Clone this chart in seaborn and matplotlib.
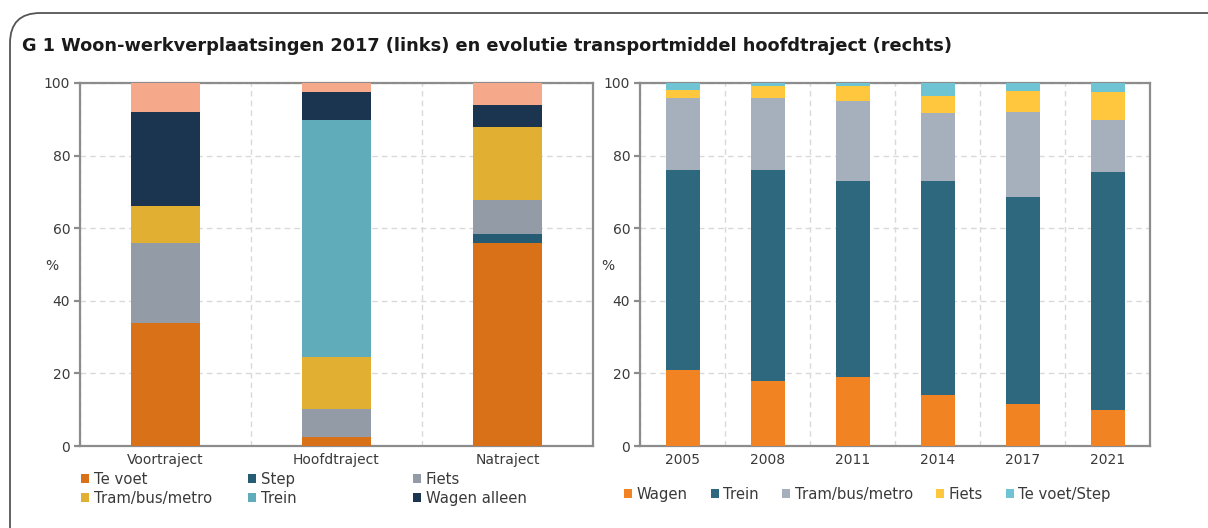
import numpy as np
import pandas as pd
import matplotlib
matplotlib.use("Agg")
import matplotlib.pyplot as plt
import seaborn as sns
from matplotlib.patches import FancyBboxPatch, Patch
from matplotlib.ticker import FixedLocator

# ---------------- data ----------------
left_categories = ["Voortraject", "Hoofdtraject", "Natraject"]
left_te_voet = [34.0, 2.4, 56.0]
left_step = [0.0, 0.0, 2.3]
left_fiets = [22.0, 7.7, 9.4]
left_tram = [10.0, 14.3, 20.3]
left_trein = [0.0, 65.3, 0.0]
left_wagen_alleen = [26.0, 7.7, 6.0]
left_andere = [8.0, 2.6, 6.0]

right_years = ["2005", "2008", "2011", "2014", "2017", "2021"]
right_wagen = [21.0, 17.8, 18.9, 14.0, 11.5, 10.0]
right_trein = [54.9, 58.1, 54.0, 58.9, 57.0, 65.6]
right_tram = [20.1, 20.1, 22.1, 18.7, 23.4, 14.1]
right_fiets = [2.0, 3.1, 4.1, 4.9, 5.9, 7.7]
right_te_voet_step = [2.0, 0.9, 0.9, 3.5, 2.2, 2.6]

left_series = [
    ("Te voet", left_te_voet, "#D97119"),
    ("Step", left_step, "#255B73"),
    ("Fiets", left_fiets, "#939CA6"),
    ("Tram/bus/metro", left_tram, "#E1B033"),
    ("Trein", left_trein, "#61ACBA"),
    ("Wagen alleen", left_wagen_alleen, "#1B3551"),
    ("Andere", left_andere, "#F5A98A"),
]
right_series = [
    ("Wagen", right_wagen, "#F28322"),
    ("Trein", right_trein, "#2E687E"),
    ("Tram/bus/metro", right_tram, "#A6B0BC"),
    ("Fiets", right_fiets, "#FFC73D"),
    ("Te voet/Step", right_te_voet_step, "#6EC4D3"),
]

# ---------------- style ----------------
sns.set_style("white")
plt.rcParams["font.family"] = ["DejaVu Sans"]
TEXT = "#3A3A3A"
SPINE = "#8C8C8C"
GRID = "#D9D9D9"
TICK_FS = 10
LEG_FS = 10.7

fig = plt.figure(figsize=(12.08, 5.28), dpi=100)
W, H = 1208, 528

def axrect(x0, x1, y0, y1):
    return [x0 / W, 1 - y1 / H, (x1 - x0) / W, (y1 - y0) / H]

axL = fig.add_axes(axrect(80, 593, 83, 446))
axR = fig.add_axes(axrect(640, 1150, 83, 446))

def stacked(ax, cats, series):
    cum = np.zeros(len(cats))
    cums = []
    for name, vals, col in series:
        cum = cum + np.array(vals, dtype=float)
        cums.append((name, cum.copy(), col))
    # draw largest cumulative first so smaller ones overlay
    for name, c, col in reversed(cums):
        df = pd.DataFrame({"cat": cats, "val": c})
        sns.barplot(data=df, x="cat", y="val", order=cats, color=col,
                    width=0.4, saturation=1, ax=ax, edgecolor="none",
                    linewidth=0, zorder=3)

def style_axes(ax, ncat):
    ax.set_ylim(0, 100)
    ax.set_xlim(-0.5, ncat - 0.5)
    ax.set_yticks([0, 20, 40, 60, 80, 100])
    ax.set_xlabel("")
    ax.set_ylabel("")
    for s in ax.spines.values():
        s.set_visible(True)
        s.set_color(SPINE)
        s.set_linewidth(1.6)
    ax.xaxis.set_minor_locator(FixedLocator(np.arange(-0.5, ncat, 1.0)))
    ax.tick_params(axis="x", which="major", length=0, labelsize=TICK_FS,
                   labelcolor=TEXT, pad=5)
    ax.tick_params(axis="x", which="minor", length=4, width=1.6,
                   color=SPINE, direction="out")
    ax.tick_params(axis="y", which="major", length=4, width=1.6,
                   color=SPINE, direction="out", labelsize=TICK_FS,
                   labelcolor=TEXT, pad=3, left=True)
    ax.grid(False)
    ax.yaxis.grid(True, which="major", color=GRID, linestyle=(0, (4, 3)),
                  linewidth=1)
    ax.xaxis.grid(True, which="minor", color=GRID, linestyle=(0, (4, 3)),
                  linewidth=1)
    ax.set_axisbelow(True)

stacked(axL, left_categories, left_series)
stacked(axR, right_years, right_series)
style_axes(axL, len(left_categories))
style_axes(axR, len(right_years))

fig.text(52 / W, 1 - 266 / H, "%", fontsize=TICK_FS, color=TEXT,
         ha="center", va="center")
fig.text(608 / W, 1 - 266 / H, "%", fontsize=TICK_FS, color=TEXT,
         ha="center", va="center")

leg_kw = dict(frameon=False, fontsize=LEG_FS, handlelength=0.55,
              handleheight=0.55, handletextpad=0.3, borderaxespad=0,
              borderpad=0, loc="upper left")

# left legend: three columns, row-wise order
col_x = [81, 248, 413]
for i, x in enumerate(col_x):
    items = [left_series[i], left_series[i + 3]]
    hs = [Patch(facecolor=c, edgecolor="none", label=n) for n, _, c in items]
    lg = fig.legend(handles=hs, bbox_to_anchor=(x / W, 1 - 472 / H),
                    labelspacing=0.25, **leg_kw)
    for t in lg.get_texts():
        t.set_color(TEXT)

hR = [Patch(facecolor=c, edgecolor="none", label=n) for n, _, c in right_series]
legR = fig.legend(handles=hR, ncol=5, bbox_to_anchor=(624 / W, 1 - 487 / H),
                  columnspacing=1.55, **leg_kw)
for t in legR.get_texts():
    t.set_color(TEXT)

# title
fig.text(22 / W, 1 - 46 / H,
         "G 1 Woon-werkverplaatsingen 2017 (links) en evolutie transportmiddel hoofdtraject (rechts)",
         fontsize=12.8, fontweight="bold", color="#1A1A1A", ha="left", va="center")

# rounded frame
frame = FancyBboxPatch((10 / W, -0.2), 1.3, (1 - 13 / H) + 0.2,
                       boxstyle="round,pad=0,rounding_size=0.025",
                       transform=fig.transFigure, facecolor="none",
                       edgecolor="#555555", linewidth=1.3, clip_on=False,
                       mutation_aspect=W / H)
fig.patches.append(frame)

fig.savefig("out.png", dpi=100)
